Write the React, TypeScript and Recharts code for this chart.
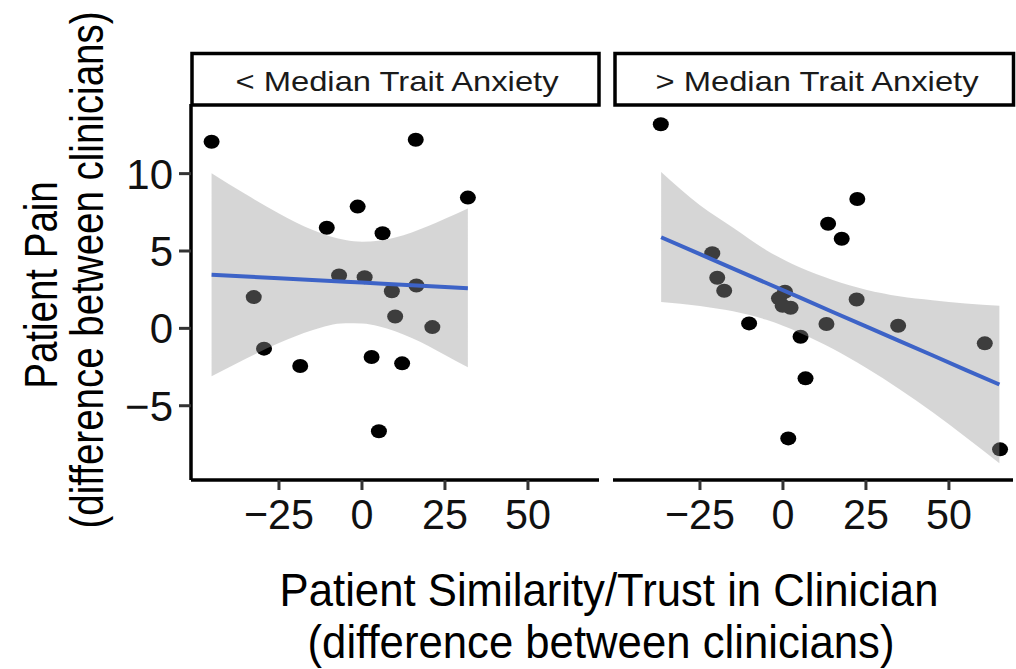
import React from 'react';
import { ComposedChart, Scatter, Area, Line, XAxis, YAxis } from 'recharts';

const FONT = '"Liberation Sans", Arial, Helvetica, sans-serif';

// ---- labels ----
const xTicks = [-25, 0, 25, 50];
const yTicks = [-5, 0, 5, 10];
const panelLabels = ['< Median Trait Anxiety', '> Median Trait Anxiety'];
const xTitle = ['Patient Similarity/Trust in Clinician', '(difference between clinicians)'];
const yTitle = ['Patient Pain', '(difference between clinicians)'];

// ---- < Median Trait Anxiety : points ----
const lowX = [-45.3, 16.2, 31.9, -1.3, -10.6, 6.2, -6.9, 0.8, 16.4, 9.0, -32.6, 10.0, 21.2, -29.5, -18.6, 2.9, 12.1, 5.1];
const lowY = [12.06, 12.19, 8.45, 7.87, 6.5, 6.15, 3.42, 3.31, 2.77, 2.4, 2.02, 0.77, 0.08, -1.31, -2.43, -1.85, -2.26, -6.65];

// ---- < Median : fitted line and confidence band ----
const lowBandX = [-45.3, -35, -25, -15, -5, 0, 5, 15, 25, 31.9];
const lowBandLo = [-3.1, -1.96, -0.95, -0.12, 0.33, 0.32, 0.14, -0.62, -1.72, -2.52];
const lowBandHi = [10.02, 8.66, 7.43, 6.38, 5.71, 5.6, 5.66, 6.2, 7.08, 7.74];
const lowFit = [3.46, 3.35, 3.24, 3.13, 3.02, 2.96, 2.9, 2.79, 2.68, 2.6];

// ---- > Median Trait Anxiety : points ----
const highX = [-36.8, 22.4, 13.6, 17.7, -21.3, -19.8, -17.7, 0.6, -1.2, -0.1, 2.3, 22.2, -10.2, 13.1, 34.7, 5.3, 60.8, 6.8, 1.6, 65.4];
const highY = [13.19, 8.36, 6.76, 5.79, 4.85, 3.27, 2.43, 2.37, 1.94, 1.46, 1.33, 1.87, 0.32, 0.28, 0.17, -0.54, -0.97, -3.23, -7.11, -7.82];

// ---- > Median : fitted line and confidence band ----
const highBandX = [-36.7, -25, -15, -5, 5, 15, 25, 35, 45, 55, 65.2];
const highBandLo = [1.71, 1.45, 1.1, 0.55, -0.28, -1.32, -2.55, -3.92, -5.4, -7.02, -8.72];
const highBandHi = [10.1, 7.95, 6.5, 5.05, 3.95, 3.13, 2.5, 2.08, 1.82, 1.6, 1.46];
const highFit = [5.89, 4.8, 3.86, 2.93, 2.0, 1.06, 0.13, -0.81, -1.74, -2.68, -3.63];

const yDomain: [number, number] = [-9.8, 14.5];

const toPoints = (xs: number[], ys: number[]) => xs.map((x, i) => ({ x, y: ys[i] }));
const toBand = (xs: number[], lo: number[], hi: number[], fit: number[]) =>
  xs.map((x, i) => ({ x, band: [lo[i], hi[i]], fit: fit[i] }));

const fmt = (v: number) => (v < 0 ? '\u2212' + Math.abs(v) : String(v));

const Dot = (p: any) => <ellipse cx={p.cx} cy={p.cy} rx={8} ry={7} fill="#000" />;

const XTick = (p: any) => (
  <text
    transform={`translate(${p.x},${p.y}) scale(0.96,1)`}
    dy="0.72em"
    textAnchor="middle"
    fontSize={43}
    fill="#111"
    fontFamily={FONT}
  >
    {fmt(p.payload.value)}
  </text>
);
const YTick = (p: any) => (
  <text x={p.x} y={p.y} dy="0.36em" textAnchor="end" fontSize={42} fill="#111" fontFamily={FONT}>
    {fmt(p.payload.value)}
  </text>
);

type PanelProps = {
  left: number;
  width: number;
  margin: { top: number; right: number; bottom: number; left: number };
  xDomain: [number, number];
  points: { x: number; y: number }[];
  band: { x: number; band: number[]; fit: number }[];
  showY: boolean;
};

const Panel = ({ left, width, margin, xDomain, points, band, showY }: PanelProps) => (
  <div style={{ position: 'absolute', left, top: 0 }}>
    <ComposedChart width={width} height={669} data={band} margin={margin}>
      <XAxis
        type="number"
        dataKey="x"
        domain={xDomain}
        ticks={xTicks}
        allowDataOverflow
        height={60}
        axisLine={{ stroke: '#000', strokeWidth: 3.5 }}
        tickLine={{ stroke: '#333', strokeWidth: 3 }}
        tickSize={10}
        tickMargin={8}
        tick={<XTick />}
      />
      <YAxis
        type="number"
        dataKey="y"
        domain={yDomain}
        ticks={yTicks}
        allowDataOverflow
        hide={!showY}
        width={191}
        axisLine={{ stroke: '#000', strokeWidth: 3.5 }}
        tickLine={{ stroke: '#333', strokeWidth: 3 }}
        tickSize={12}
        tickMargin={6}
        tick={<YTick />}
      />
      <Scatter data={points} dataKey="y" shape={<Dot />} isAnimationActive={false} />
      <Area
        dataKey="band"
        type="monotone"
        fill="#999999"
        fillOpacity={0.4}
        stroke="none"
        isAnimationActive={false}
        dot={false}
        activeDot={false}
        {...({ zIndex: 700 } as any)}
      />
      <Line
        dataKey="fit"
        type="linear"
        stroke="#3d63c7"
        strokeWidth={4}
        dot={false}
        activeDot={false}
        isAnimationActive={false}
        {...({ zIndex: 800 } as any)}
      />
    </ComposedChart>
  </div>
);

export default function App() {
  return (
    <div style={{ position: 'absolute', left: 0, top: 0, width: 1016, height: 669, background: '#fff', overflow: 'hidden', fontFamily: FONT }}>
      <Panel
        left={0}
        width={610}
        margin={{ top: 104, right: 11, bottom: 129, left: 0 }}
        xDomain={[-51.5, 71.4]}
        points={toPoints(lowX, lowY)}
        band={toBand(lowBandX, lowBandLo, lowBandHi, lowFit)}
        showY
      />
      <Panel
        left={600}
        width={416}
        margin={{ top: 104, right: 3, bottom: 129, left: 13 }}
        xDomain={[-51.2, 69.3]}
        points={toPoints(highX, highY)}
        band={toBand(highBandX, highBandLo, highBandHi, highFit)}
        showY={false}
      />
      <svg width={1016} height={669} style={{ position: 'absolute', left: 0, top: 0, pointerEvents: 'none' }}>
        <rect x={192} y={53.5} width={407} height={51.5} fill="#fff" stroke="#000" strokeWidth={3.5} />
        <rect x={615} y={53.5} width={398.5} height={51.5} fill="#fff" stroke="#000" strokeWidth={3.5} />
        <text transform="translate(397,90.5) scale(1.17,1)" textAnchor="middle" fontSize={28} fill="#1a1a1a" fontFamily={FONT}>
          {panelLabels[0]}
        </text>
        <text transform="translate(817,90.5) scale(1.17,1)" textAnchor="middle" fontSize={28} fill="#1a1a1a" fontFamily={FONT}>
          {panelLabels[1]}
        </text>
        <text transform="translate(609,606) scale(0.95,1)" textAnchor="middle" fontSize={46} fill="#000" fontFamily={FONT}>
          {xTitle[0]}
        </text>
        <text transform="translate(601,658) scale(0.95,1)" textAnchor="middle" fontSize={46} fill="#000" fontFamily={FONT}>
          {xTitle[1]}
        </text>
        <text transform="translate(57,285) scale(1.2,1) rotate(-90)" textAnchor="middle" fontSize={38.5} fill="#000" fontFamily={FONT}>
          {yTitle[0]}
        </text>
        <text transform="translate(103,270) scale(1.2,1) rotate(-90)" textAnchor="middle" fontSize={38.5} fill="#000" fontFamily={FONT}>
          {yTitle[1]}
        </text>
      </svg>
    </div>
  );
}
